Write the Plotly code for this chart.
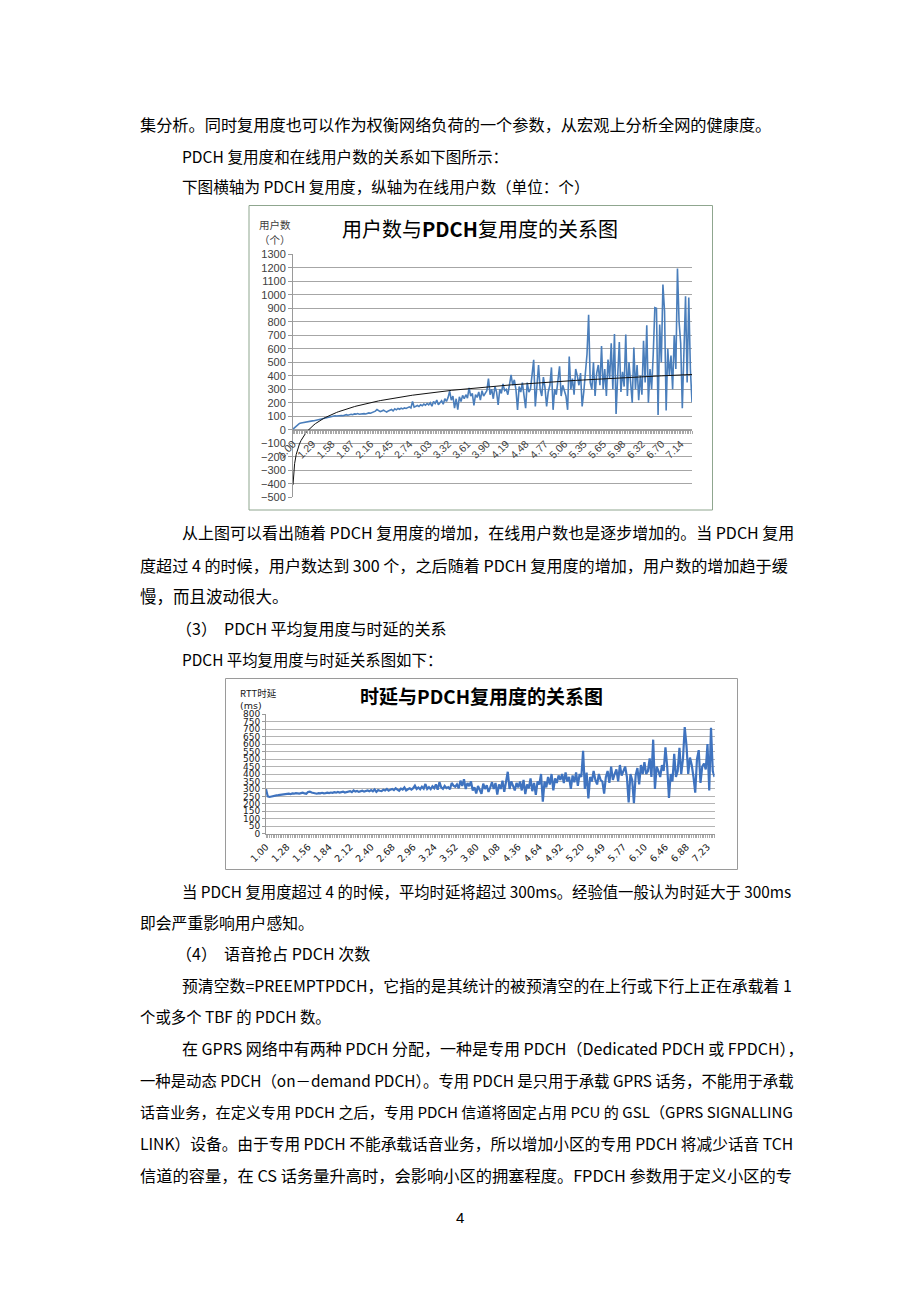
import numpy as np
import plotly.graph_objects as go

# ---------------- data ----------------
users_labels = ["1.00", "1.29", "1.58", "1.87", "2.16", "2.45", "2.74", "3.03", "3.32", "3.61",
                "3.90", "4.19", "4.48", "4.77", "5.06", "5.35", "5.65", "5.98", "6.32", "6.70", "7.14"]
users = [
    5, 15, 28, 40, 47, 50, 53, 56, 58, 60, 62, 64,
    66, 67, 70, 72, 73, 75, 78, 80, 84, 88, 92, 95,
    98, 100, 104, 102, 105, 108, 106, 104, 110, 112, 108, 113,
    115, 112, 118, 116, 120, 115, 118, 122, 120, 117, 122, 125,
    123, 128, 132, 138, 150, 142, 135, 140, 145, 138, 132, 140,
    145, 150, 140, 155, 148, 158, 152, 160, 155, 162, 158, 165,
    170, 162, 210, 168, 175, 180, 172, 185, 178, 190, 182, 195,
    185, 200, 175, 210, 195, 220, 185, 205, 215, 190, 230, 210,
    240, 285, 220, 250, 160, 230, 150, 245, 210, 255, 230, 260,
    235, 310, 250, 270, 180, 260, 240, 280, 220, 290, 250, 270,
    290, 380, 260, 300, 230, 320, 280, 185, 300, 270, 340, 290,
    300, 260, 350, 407, 330, 370, 300, 148, 320, 280, 350, 250,
    160, 350, 280, 300, 420, 518, 173, 350, 480, 300, 250, 390,
    310, 173, 280, 330, 462, 148, 300, 260, 380, 470, 250, 330,
    290, 250, 148, 543, 300, 380, 260, 450, 400, 330, 420, 173,
    280, 400, 560, 852, 350, 300, 500, 250, 420, 480, 330, 620,
    300, 450, 250, 520, 380, 640, 300, 710, 118, 400, 650, 280,
    430, 320, 705, 250, 500, 350, 200, 610, 300, 480, 220, 400,
    260, 660, 350, 775, 200, 450, 300, 560, 905, 900, 110, 780,
    500, 1076, 880, 143, 600, 400, 550, 300, 700, 450, 1195, 800,
    640, 160, 500, 990, 350, 980, 450, 205,
]

delay_labels = ["1.00", "1.28", "1.56", "1.84", "2.12", "2.40", "2.68", "2.96", "3.24", "3.52", "3.80",
                "4.08", "4.36", "4.64", "4.92", "5.20", "5.49", "5.77", "6.10", "6.46", "6.88", "7.23"]
delay = [
    300, 250, 246, 250, 252, 255, 257, 258, 260, 262, 263, 265,
    266, 268, 265, 270, 268, 272, 270, 268, 272, 275, 270, 268,
    280, 282, 276, 272, 270, 268, 272, 270, 274, 270, 272, 275,
    272, 276, 274, 278, 275, 280, 276, 278, 282, 276, 280, 285,
    285, 278, 290, 282, 286, 280, 284, 288, 282, 286, 290, 284,
    292, 284, 296, 280, 292, 288, 285, 295, 290, 300, 288, 295,
    300, 292, 305, 295, 288, 302, 296, 310, 290, 298, 304, 296,
    305, 322, 300, 310, 298, 315, 302, 333, 300, 312, 298, 318,
    305, 330, 295, 345, 310, 300, 320, 305, 312, 298, 340, 322,
    315, 330, 305, 355, 320, 365, 300, 340, 318, 350, 290, 310,
    270, 320, 290, 268, 335, 300, 325, 280, 310, 345, 300, 340,
    262, 330, 300, 355, 280, 340, 415, 300, 350, 320, 290, 340,
    310, 350, 290, 360, 265, 330, 305, 370, 285, 340, 260, 350,
    330, 400, 215, 350, 310, 380, 330, 400, 290, 370, 340, 390,
    360, 400, 340, 410, 350, 380, 300, 390, 345, 410, 320, 400,
    380, 555, 300, 410, 237, 380, 350, 420, 360, 330, 400, 360,
    350, 268, 380, 420, 340, 450, 360, 400, 430, 350, 460, 390,
    420, 450, 380, 210, 400, 360, 205, 390, 440, 330, 460, 400,
    480, 400, 420, 505, 380, 630, 300, 450, 420, 380, 460, 420,
    578, 450, 240, 400, 350, 535, 380, 420, 575, 400, 500, 714,
    590, 400, 510, 460, 380, 275, 500, 560, 340, 450, 470, 430,
    600, 290, 710, 420, 380,
]

users_yticks = list(range(-500, 1301, 100))
delay_yticks = list(range(0, 801, 50))

# ---------------- page geometry helpers ----------------
W, H = 920, 1302
def px(x):
    return x / W
def py(y):
    return 1 - y / H

PER_LABEL = 12  # data points per labelled category step

body_font = "Noto Sans CJK SC"
cjk_font = "Noto Sans CJK SC"
chart_font = "Liberation Sans"

fig = go.Figure()

# ---------- chart 1 ----------
idx1 = np.arange(len(users))
xcat1 = 1 + idx1 * (29 / PER_LABEL)
coef = np.polyfit(np.log(xcat1), np.array(users, dtype=float), 1)
trend1 = coef[0] * np.log(xcat1) + coef[1]

fig.add_trace(go.Scatter(x=idx1, y=users, mode="lines",
                         line=dict(color="#4a7ebb", width=1.6),
                         xaxis="x", yaxis="y", showlegend=False, hoverinfo="skip"))
fig.add_trace(go.Scatter(x=idx1, y=trend1, mode="lines",
                         line=dict(color="#111111", width=1),
                         xaxis="x", yaxis="y", showlegend=False, hoverinfo="skip"))

# ---------- chart 2 ----------
idx2 = np.arange(len(delay))
fig.add_trace(go.Scatter(x=idx2, y=delay, mode="lines",
                         line=dict(color="#3f73bf", width=2.2),
                         xaxis="x2", yaxis="y2", showlegend=False, hoverinfo="skip"))

ticktext1 = [users_labels[i // PER_LABEL] if i % PER_LABEL == 0 and i // PER_LABEL < len(users_labels) else ""
             for i in idx1]
ticktext2 = [delay_labels[i // PER_LABEL] if i % PER_LABEL == 0 and i // PER_LABEL < len(delay_labels) else ""
             for i in idx2]

y1_dom = [py(497.3), py(254.3)]
y1_rng = [-500, 1300]
x1_pos = y1_dom[0] + (0 - y1_rng[0]) / (y1_rng[1] - y1_rng[0]) * (y1_dom[1] - y1_dom[0])

fig.update_layout(
    width=W, height=H,
    margin=dict(l=0, r=0, t=0, b=0, autoexpand=False),
    paper_bgcolor="white", plot_bgcolor="white",
    xaxis=dict(domain=[px(293), px(692)], range=[0, len(users) - 1],
               anchor="free", position=x1_pos, automargin=False,
               tickmode="array", tickvals=list(idx1), ticktext=ticktext1,
               tickangle=-45, ticks="outside", ticklen=3, tickcolor="#a8a8a8",
               tickfont=dict(family=chart_font, size=10.5, color="#404040"),
               showline=True, linecolor="#9a9a9a", showgrid=False, zeroline=False),
    yaxis=dict(domain=y1_dom, range=y1_rng, anchor="x", automargin=False,
               tickmode="array", tickvals=users_yticks,
               ticks="outside", ticklen=4, tickcolor="#9a9a9a",
               tickfont=dict(family=chart_font, size=11, color="#404040"),
               showline=True, linecolor="#9a9a9a",
               showgrid=True, gridcolor="#a6a6a6", gridwidth=1, zeroline=False),
    xaxis2=dict(domain=[px(266), px(714.5)], range=[0, len(delay) - 1],
                anchor="y2", automargin=False,
                tickmode="array", tickvals=list(idx2), ticktext=ticktext2,
                tickangle=-45, ticks="outside", ticklen=3, tickcolor="#a8a8a8",
                tickfont=dict(family="DejaVu Sans", size=9.5, color="#202020"),
                showline=True, linecolor="#9a9a9a", showgrid=False, zeroline=False),
    yaxis2=dict(domain=[py(833.7), py(714.3)], range=[0, 800], anchor="x2", automargin=False,
                tickmode="array", tickvals=delay_yticks,
                ticks="outside", ticklen=3, tickcolor="#9a9a9a",
                tickfont=dict(family="DejaVu Sans", size=9, color="#202020"),
                showline=True, linecolor="#9a9a9a",
                showgrid=True, gridcolor="#b4b4b4", gridwidth=1, zeroline=False),
)

# chart borders
fig.add_shape(type="rect", xref="paper", yref="paper",
              x0=px(249), x1=px(712.5), y0=py(510), y1=py(205.5),
              line=dict(color="#8fa68f", width=1), fillcolor="rgba(0,0,0,0)", layer="below")
fig.add_shape(type="rect", xref="paper", yref="paper",
              x0=px(225.5), x1=px(737.5), y0=py(869.5), y1=py(678.5),
              line=dict(color="#9a9a9a", width=1), fillcolor="rgba(0,0,0,0)", layer="below")

def ann(x, y, text, size, color="#000000", family=body_font, xanchor="left"):
    fig.add_annotation(x=px(x), y=py(y), xref="paper", yref="paper", text=text,
                       showarrow=False, xanchor=xanchor, yanchor="middle",
                       font=dict(family=family, size=size, color=color))

# chart texts
ann(480, 228, "用户数与<b>PDCH</b>复用度的关系图", 20, "#000000", cjk_font, "center")
ann(275, 225, "用户数", 10.5, "#404040", cjk_font, "center")
ann(275, 240, "（个）", 10.5, "#404040", cjk_font, "center")
ann(481, 695, "<b>时延与PDCH复用度的关系图</b>", 19, "#000000", cjk_font, "center")
ann(238, 693, "RTT时延", 9.5, "#202020", cjk_font, "left")
ann(238, 705, "(ms)", 9.5, "#202020", "DejaVu Sans", "left")

# body text lines: (x, y, text, font size)
body = [
    (138, 124, "集分析。同时复用度也可以作为权衡网络负荷的一个参数，从宏观上分析全网的健康度。", 16.2),
    (180, 156, "PDCH 复用度和在线用户数的关系如下图所示：", 15.6),
    (180, 186, "下图横轴为 PDCH 复用度，纵轴为在线用户数（单位：个）", 15.6),
    (180, 532, "从上图可以看出随着 PDCH 复用度的增加，在线用户数也是逐步增加的。当 PDCH 复用", 16),
    (138, 565, "度超过 4 的时候，用户数达到 300 个，之后随着 PDCH 复用度的增加，用户数的增加趋于缓", 16.1),
    (138, 596, "慢，而且波动很大。", 16.5),
    (174, 628, "（3）  PDCH 平均复用度与时延的关系", 16),
    (180, 659, "PDCH 平均复用度与时延关系图如下：", 15.4),
    (180, 891, "当 PDCH 复用度超过 4 的时候，平均时延将超过 300ms。经验值一般认为时延大于 300ms", 15.35),
    (138, 922, "即会严重影响用户感知。", 15.8),
    (174, 953, "（4）  语音抢占 PDCH 次数", 16),
    (180, 985, "预清空数=PREEMPTPDCH，它指的是其统计的被预清空的在上行或下行上正在承载着 1", 15.85),
    (138, 1016, "个或多个 TBF 的 PDCH 数。", 15.4),
    (180, 1048, "在 GPRS 网络中有两种 PDCH 分配，一种是专用 PDCH（Dedicated PDCH 或 FPDCH），", 16),
    (138, 1080, "一种是动态 PDCH（on－demand PDCH）。专用 PDCH 是只用于承载 GPRS 话务，不能用于承载", 15.36),
    (138, 1111, "话音业务，在定义专用 PDCH 之后，专用 PDCH 信道将固定占用 PCU 的 GSL（GPRS SIGNALLING", 15.12),
    (138, 1143, "LINK）设备。由于专用 PDCH 不能承载话音业务，所以增加小区的专用 PDCH 将减少话音 TCH", 15.69),
    (138, 1175, "信道的容量，在 CS 话务量升高时，会影响小区的拥塞程度。FPDCH 参数用于定义小区的专", 16.25),
]
for x, y, t, s in body:
    ann(x, y, t, s)
ann(460, 1217, "4", 15, "#000000", "Liberation Sans", "center")

fig.write_html("out.html", config={"displayModeBar": False},
               post_script="document.body.style.margin='0px';")
